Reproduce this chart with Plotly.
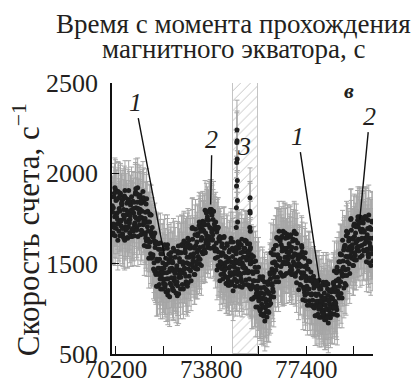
import numpy as np
import plotly.graph_objects as go

# ---------------- data ----------------
T_START = 70060          # s, first sample of series a
T_STEP = 30              # s, sampling step of each interleaved series

rate_a = [
    1820, 1670, 1870, 1760, 1910, 1695, 1780, 1630, 1865, 1730,
    1880, 1710, 1825, 1665, 1770, 1750, 1905, 1685, 1795, 1645,
    1855, 1740, 1670, 1825, 1790, 1650, 1845, 1780, 1715, 1885,
    1810, 1700, 1920, 1740, 1780, 1880, 1660, 1755, 1855, 1715,
    1840, 1670, 1785, 1625, 1730, 1680, 1530, 1730, 1620, 1770,
    1655, 1540, 1470, 1625, 1590, 1440, 1525, 1375, 1610, 1475,
    1580, 1360, 1455, 1555, 1415, 1450, 1605, 1385, 1495, 1345,
    1327, 1522, 1457, 1392, 1562, 1475, 1365, 1585, 1405, 1445,
    1388, 1473, 1323, 1558, 1423, 1510, 1360, 1560, 1450, 1600,
    1615, 1445, 1560, 1400, 1505, 1615, 1500, 1430, 1585, 1550,
    1545, 1700, 1480, 1590, 1440, 1690, 1470, 1565, 1665, 1525,
    1500, 1695, 1630, 1565, 1735, 1685, 1575, 1795, 1615, 1655,
    1760, 1610, 1790, 1700, 1800, 1800, 1630, 1745, 1585, 1690,
    1530, 1615, 1465, 1700, 1565, 1625, 1510, 1440, 1595, 1560,
    1495, 1650, 1430, 1540, 1390, 1600, 1380, 1475, 1575, 1435,
    1510, 1400, 1620, 1440, 1480, 1375, 1570, 1505, 1440, 1610,
    1615, 1445, 1560, 1400, 1505, 1535, 1385, 1585, 1475, 1625,
    1565, 1450, 1380, 1535, 1500, 1370, 1455, 1305, 1540, 1405,
    1480, 1260, 1355, 1455, 1315, 1303, 1427, 1251, 1339, 1219,
    1310, 1222, 1398, 1254, 1286, 1205, 1400, 1335, 1270, 1440,
    1560, 1390, 1505, 1345, 1450, 1550, 1400, 1600, 1490, 1640,
    1635, 1520, 1450, 1605, 1570, 1500, 1585, 1435, 1670, 1535,
    1565, 1660, 1500, 1610, 1460, 1660, 1440, 1535, 1635, 1495,
    1555, 1445, 1665, 1485, 1525, 1355, 1550, 1485, 1420, 1590,
    1540, 1370, 1485, 1325, 1430, 1420, 1270, 1470, 1360, 1510,
    1418, 1326, 1270, 1394, 1366, 1264, 1332, 1212, 1400, 1292,
    1380, 1204, 1280, 1360, 1248, 1273, 1397, 1221, 1309, 1189,
    1300, 1212, 1388, 1244, 1276, 1200, 1356, 1304, 1252, 1388,
    1460, 1290, 1405, 1245, 1350, 1460, 1310, 1510, 1400, 1550,
    1430, 1515, 1365, 1600, 1465, 1655, 1540, 1470, 1625, 1590,
    1595, 1750, 1530, 1640, 1490, 1720, 1520, 1615, 1715, 1575,
    1705, 1595, 1760, 1635, 1675, 1545, 1740, 1675, 1610, 1760,
    1750, 1580, 1695, 1535, 1640, 1640, 1490, 1690, 1580,
]

rate_b = [
    1660, 1810, 1700, 1920, 1765, 1760, 1720, 1900, 1680, 1790,
    1890, 1740, 1850, 1650, 1800, 1875, 1705, 1770, 1835, 1640,
    1705, 1845, 1745, 1650, 1870, 1785, 1680, 1840, 1725, 1895,
    1750, 1885, 1650, 1800, 1715, 1800, 1835, 1680, 1750, 1865,
    1600, 1750, 1640, 1860, 1705, 1635, 1595, 1775, 1555, 1665,
    1700, 1550, 1660, 1460, 1610, 1620, 1450, 1515, 1580, 1385,
    1415, 1555, 1455, 1360, 1580, 1475, 1370, 1530, 1415, 1585,
    1417, 1552, 1317, 1467, 1382, 1470, 1505, 1350, 1420, 1535,
    1338, 1488, 1378, 1598, 1443, 1465, 1425, 1605, 1385, 1495,
    1625, 1475, 1585, 1385, 1535, 1640, 1470, 1535, 1600, 1405,
    1495, 1635, 1535, 1440, 1660, 1600, 1495, 1655, 1540, 1710,
    1590, 1725, 1490, 1640, 1555, 1680, 1715, 1560, 1630, 1745,
    1590, 1740, 1630, 1800, 1695, 1675, 1635, 1790, 1595, 1705,
    1730, 1580, 1690, 1490, 1640, 1650, 1480, 1545, 1610, 1415,
    1445, 1585, 1485, 1390, 1610, 1510, 1405, 1565, 1450, 1620,
    1450, 1585, 1350, 1500, 1415, 1520, 1555, 1400, 1470, 1585,
    1375, 1525, 1415, 1635, 1480, 1490, 1450, 1630, 1410, 1520,
    1610, 1460, 1570, 1370, 1520, 1550, 1380, 1445, 1510, 1315,
    1315, 1455, 1355, 1260, 1480, 1323, 1239, 1367, 1275, 1411,
    1262, 1370, 1182, 1302, 1234, 1350, 1385, 1230, 1300, 1415,
    1320, 1470, 1360, 1580, 1425, 1505, 1465, 1645, 1425, 1535,
    1680, 1530, 1640, 1440, 1590, 1680, 1510, 1575, 1640, 1445,
    1505, 1645, 1545, 1450, 1650, 1570, 1465, 1625, 1510, 1680,
    1495, 1630, 1395, 1545, 1460, 1500, 1535, 1380, 1450, 1565,
    1300, 1450, 1340, 1560, 1405, 1375, 1335, 1515, 1295, 1405,
    1454, 1334, 1422, 1262, 1382, 1408, 1272, 1324, 1376, 1220,
    1248, 1360, 1280, 1204, 1380, 1293, 1209, 1337, 1245, 1381,
    1252, 1360, 1172, 1292, 1224, 1316, 1344, 1220, 1276, 1368,
    1220, 1370, 1260, 1480, 1325, 1415, 1375, 1555, 1335, 1445,
    1630, 1480, 1590, 1390, 1540, 1680, 1510, 1575, 1640, 1445,
    1545, 1685, 1585, 1490, 1710, 1650, 1545, 1705, 1590, 1740,
    1635, 1750, 1535, 1685, 1600, 1690, 1725, 1570, 1640, 1755,
    1510, 1660, 1550, 1770, 1615, 1595, 1555, 1735, 1515,
]

rate_c = [
    1785, 1720, 1890, 1655, 1850, 1855, 1745, 1895, 1805, 1655,
    1735, 1835, 1695, 1860, 1640, 1630, 1865, 1730, 1695, 1780,
    1905, 1725, 1765, 1795, 1685, 1695, 1805, 1655, 1760, 1915,
    1685, 1840, 1805, 1870, 1755, 1845, 1685, 1790, 1900, 1730,
    1725, 1660, 1830, 1595, 1790, 1730, 1620, 1770, 1680, 1530,
    1545, 1645, 1505, 1670, 1450, 1375, 1610, 1475, 1440, 1525,
    1615, 1435, 1475, 1505, 1395, 1385, 1495, 1345, 1450, 1605,
    1352, 1507, 1472, 1537, 1422, 1515, 1355, 1460, 1570, 1400,
    1463, 1398, 1568, 1333, 1528, 1560, 1450, 1600, 1510, 1360,
    1470, 1570, 1430, 1595, 1375, 1395, 1630, 1495, 1460, 1545,
    1695, 1515, 1555, 1585, 1475, 1510, 1620, 1470, 1575, 1730,
    1525, 1680, 1645, 1710, 1595, 1725, 1565, 1670, 1780, 1610,
    1715, 1650, 1790, 1585, 1780, 1770, 1660, 1790, 1720, 1570,
    1575, 1675, 1535, 1700, 1480, 1405, 1640, 1505, 1470, 1555,
    1645, 1465, 1505, 1535, 1425, 1420, 1530, 1380, 1485, 1640,
    1385, 1540, 1505, 1570, 1455, 1565, 1405, 1510, 1620, 1450,
    1500, 1435, 1605, 1370, 1565, 1585, 1475, 1625, 1535, 1385,
    1455, 1555, 1415, 1580, 1360, 1305, 1540, 1405, 1370, 1455,
    1515, 1335, 1375, 1405, 1295, 1251, 1339, 1219, 1303, 1427,
    1210, 1334, 1306, 1358, 1266, 1395, 1235, 1340, 1450, 1280,
    1445, 1380, 1550, 1315, 1510, 1600, 1490, 1640, 1550, 1400,
    1525, 1625, 1485, 1650, 1430, 1435, 1670, 1535, 1500, 1585,
    1660, 1525, 1565, 1595, 1485, 1480, 1590, 1440, 1545, 1670,
    1430, 1585, 1550, 1615, 1500, 1545, 1385, 1490, 1600, 1430,
    1425, 1360, 1530, 1295, 1490, 1470, 1360, 1510, 1420, 1270,
    1330, 1410, 1298, 1430, 1254, 1212, 1400, 1292, 1264, 1332,
    1408, 1264, 1296, 1320, 1232, 1221, 1309, 1189, 1273, 1397,
    1200, 1324, 1296, 1348, 1256, 1352, 1224, 1308, 1396, 1260,
    1345, 1280, 1450, 1215, 1410, 1510, 1400, 1550, 1460, 1310,
    1475, 1575, 1435, 1600, 1380, 1435, 1670, 1535, 1500, 1585,
    1745, 1565, 1605, 1635, 1525, 1560, 1670, 1520, 1625, 1760,
    1570, 1725, 1690, 1755, 1640, 1735, 1575, 1680, 1760, 1620,
    1635, 1570, 1740, 1505, 1700, 1690, 1580, 1730, 1640,
]
OFFSET_B = 10            # s, time offset of series b
OFFSET_C = 20            # s, time offset of series c

# burst 3 (two short spikes inside the hatched interval)
t_spike1 = [74745, 74750, 74755, 74760, 74765, 74770, 74775, 74780, 74785, 74790, 74795, 74800, 74805]
v_spike1 = [1590, 1700, 1810, 1930, 2060, 2170, 2240, 2180, 2080, 1960, 1850, 1730, 1620]
t_spike2 = [75250, 75255, 75260, 75265, 75270, 75275, 75280, 75285, 75290]
v_spike2 = [1520, 1610, 1700, 1790, 1865, 1780, 1680, 1590, 1500]

ERR = 165                # statistical error, s^-1

BAND_START = 74620       # hatched interval
BAND_END = 75560

X_RANGE = [70050, 79920]
Y_RANGE = [1000, 2500]
x_tickvals = [70200, 73800, 77400]
x_ticktext = ["70200", "73800", "77400"]
X_MINOR_DTICK = 1800
y_tickvals = [1000, 1500, 2000, 2500]
y_ticktext = ["500", "1500", "2000", "2500"]

# ---------------- figure ----------------
t_all = np.concatenate([T_START + T_STEP * np.arange(len(rate_a)),
                        T_START + OFFSET_B + T_STEP * np.arange(len(rate_b)),
                        T_START + OFFSET_C + T_STEP * np.arange(len(rate_c)),
                        t_spike1, t_spike2])
v_all = np.concatenate([rate_a, rate_b, rate_c, v_spike1, v_spike2])

FONT = "Liberation Serif"
TXT = "#231f20"

fig = go.Figure()

fig.add_trace(go.Bar(
    x=[(BAND_START + BAND_END) / 2], y=[Y_RANGE[1] - Y_RANGE[0]], base=[Y_RANGE[0]],
    width=[BAND_END - BAND_START],
    marker=dict(color="white", line=dict(color="#c4c4c4", width=1),
                pattern=dict(shape="/", bgcolor="white", fgcolor="#c4c4c4",
                             size=7, solidity=0.14, fillmode="replace")),
    hoverinfo="skip",
))

fig.add_trace(go.Scatter(
    x=t_all, y=v_all, mode="markers",
    marker=dict(size=1, color="rgba(0,0,0,0)"),
    error_y=dict(type="constant", value=ERR, color="#a6a6a6", thickness=1, width=2.5),
    hoverinfo="skip",
))

fig.add_trace(go.Scatter(
    x=t_all, y=v_all, mode="markers",
    marker=dict(size=5, color="#1e1e1e"),
))

def label(text, x, y, ax=None, ay=None):
    d = dict(text=text, x=x, y=y, xref="x", yref="y",
             font=dict(family=FONT, size=26, color=TXT))
    if ax is None:
        d.update(showarrow=False)
    else:
        d.update(showarrow=True, ax=ax, ay=ay, axref="x", ayref="y",
                 arrowhead=0, arrowwidth=1.4, arrowcolor="#111",
                 standoff=0, startstandoff=0)
    return d

fig.update_layout(
    annotations=[
        dict(text="Время с момента прохождения", x=0.466, y=1.216, xref="paper", yref="paper",
             xanchor="center", yanchor="middle", showarrow=False,
             font=dict(family=FONT, size=27, color=TXT)),
        dict(text="магнитного экватора, с", x=0.466, y=1.124, xref="paper", yref="paper",
             xanchor="center", yanchor="middle", showarrow=False,
             font=dict(family=FONT, size=27, color=TXT)),
        dict(text="Скорость счета, с<sup>−1</sup>", textangle=-90,
             x=-0.33, y=0.46, xref="paper", yref="paper",
             xanchor="center", yanchor="middle", showarrow=False,
             font=dict(family=FONT, size=31, color=TXT)),
        label("<i>1</i>", 72061, 1522, 70928, 2394),
        label("<i>2</i>", 73780, 1828, 73830, 2189),
        label("<i>3</i>", 75030, 2150),
        label("<i>1</i>", 77910, 1394, 77083, 2206),
        label("<i>2</i>", 79420, 1744, 79797, 2317),
        dict(text="<b><i>в</i></b>", x=79007, y=2456, xref="x", yref="y", showarrow=False,
             font=dict(family=FONT, size=22, color=TXT)),
    ],
    width=412, height=375,
    margin=dict(l=104, r=47, t=75, b=29),
    paper_bgcolor="white", plot_bgcolor="white",
    showlegend=False,
    bargap=0,
    xaxis=dict(range=X_RANGE, tickvals=x_tickvals, ticktext=x_ticktext,
               automargin=False,
               showline=True, linecolor="#111", linewidth=1.5,
               ticks="inside", ticklen=8, tickwidth=1.3, tickcolor="#111",
               ticklabelstandoff=-8,
               minor=dict(tick0=x_tickvals[0], dtick=X_MINOR_DTICK, ticks="inside",
                          ticklen=8, tickwidth=1.3, tickcolor="#111", showgrid=False),
               showgrid=False, zeroline=False,
               tickfont=dict(family=FONT, size=25, color=TXT)),
    yaxis=dict(range=Y_RANGE, tickvals=y_tickvals, ticktext=y_ticktext,
               automargin=False,
               showline=True, linecolor="#111", linewidth=1.5,
               ticks="inside", ticklen=7, tickwidth=1.3, tickcolor="#111",
               ticklabelstandoff=7,
               showgrid=False, zeroline=False,
               tickfont=dict(family=FONT, size=26, color=TXT)),
)

fig.write_html("out.html")
